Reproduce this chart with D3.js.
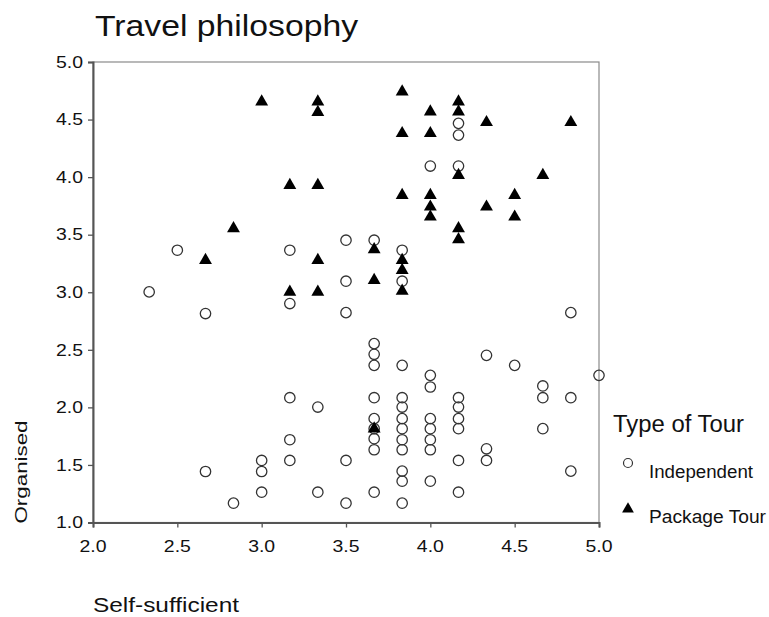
<!DOCTYPE html>
<html><head><meta charset="utf-8">
<script src="https://cdn.jsdelivr.net/npm/d3@7"></script>
<style>body{margin:0;background:#fff}text{font-family:"Liberation Sans",Arial,sans-serif;fill:#111}</style>
</head><body><svg id="c" width="769" height="617"></svg>
<script>
const title = "Travel philosophy";
const xTitle = "Self-sufficient";
const yTitle = "Organised";
const legendTitle = "Type of Tour";
const seriesNames = ["Independent", "Package Tour"];
const xTicks = [2.0, 2.5, 3.0, 3.5, 4.0, 4.5, 5.0];
const yTicks = [1.0, 1.5, 2.0, 2.5, 3.0, 3.5, 4.0, 4.5, 5.0];

const indepX = [
 2.5, 3.167, 3.5, 2.333, 3.5, 2.667, 3.167, 3.5, 3.667, 3.833, 3.833, 4.833, 4.0, 4.167, 4.167, 4.167,
 3.167, 3.333, 3.167, 3.167, 3.5, 2.667, 3.0, 3.0, 3.0, 3.333, 2.833, 3.5,
 3.667, 3.667, 3.667, 3.667, 3.667, 3.667, 3.667, 3.667, 3.667,
 3.833, 3.833, 3.833, 3.833, 3.833, 3.833, 3.833, 3.833, 3.833, 3.833,
 4.0, 4.0, 4.0, 4.0, 4.0, 4.0, 4.0,
 4.167, 4.167, 4.167, 4.167, 4.167, 4.167,
 4.333, 4.333, 4.333, 4.5, 4.667, 4.667, 4.667, 4.833, 4.833, 5.0
];
const indepY = [
 3.365, 3.365, 3.452, 3.003, 3.096, 2.815, 2.902, 2.823, 3.452, 3.365, 3.096, 2.823, 4.096, 4.096, 4.467, 4.365,
 2.084, 2.003, 1.719, 1.539, 1.539, 1.443, 1.539, 1.443, 1.263, 1.263, 1.168, 1.168,
 2.554, 2.461, 2.365, 2.084, 1.902, 1.815, 1.728, 1.632, 1.263,
 2.365, 2.084, 2.003, 1.902, 1.815, 1.719, 1.632, 1.446, 1.359, 1.168,
 2.278, 2.177, 1.902, 1.815, 1.719, 1.632, 1.359,
 2.084, 2.003, 1.902, 1.815, 1.539, 1.263,
 2.452, 1.640, 1.539, 2.365, 2.186, 2.084, 1.815, 2.084, 1.446, 2.278
];
const packX = [
 3.0, 3.333, 3.333, 3.167, 3.333, 3.833, 4.0, 4.167, 4.167, 4.333, 4.833, 3.833, 4.0,
 4.667, 4.167, 3.833, 4.0, 4.5, 4.0, 4.0, 4.333, 4.5, 4.167, 4.167, 3.667, 3.833, 3.833,
 3.667, 3.833, 2.833, 2.667, 3.333, 3.167, 3.333, 3.667
];
const packY = [
 4.655, 4.655, 4.563, 3.930, 3.930, 4.742, 4.568, 4.655, 4.568, 4.476, 4.476, 4.380, 4.380,
 4.017, 4.017, 3.843, 3.843, 3.843, 3.742, 3.655, 3.742, 3.655, 3.554, 3.458, 3.371, 3.278, 3.191,
 3.104, 3.011, 3.554, 3.278, 3.278, 3.003, 3.003, 1.815
];

const svg = d3.select("#c");
const x = d3.scaleLinear().domain([2, 5]).range([93, 599]);
const y = d3.scaleLinear().domain([1, 5]).range([522.5, 62]);

// frame
svg.append("rect").attr("x", x(2)).attr("y", y(5)).attr("width", x(5) - x(2)).attr("height", y(1) - y(5))
  .attr("fill", "none").attr("stroke", "#8a8a8a").attr("stroke-width", 1.2);

// axes
const xAxis = svg.append("g").attr("transform", `translate(0,${y(1)})`)
  .call(d3.axisBottom(x).tickValues(xTicks).tickSize(5).tickFormat(""));
const yAxis = svg.append("g").attr("transform", `translate(${x(2)},0)`)
  .call(d3.axisLeft(y).tickValues(yTicks).tickSize(5).tickFormat(""));
[xAxis, yAxis].forEach(g => {
  g.select(".domain").attr("stroke", "#555").attr("stroke-width", 2);
  g.selectAll(".tick line").attr("stroke", "#555").attr("stroke-width", 1.3);
});

// tick labels
svg.append("g").selectAll("text").data(xTicks).join("text")
  .attr("x", d => x(d)).attr("y", 552).attr("text-anchor", "middle")
  .attr("font-size", 17).attr("textLength", 27).attr("lengthAdjust", "spacingAndGlyphs")
  .text(d => d.toFixed(1));
svg.append("g").selectAll("text").data(yTicks).join("text")
  .attr("x", 83).attr("y", d => y(d)).attr("dy", "0.36em").attr("text-anchor", "end")
  .attr("font-size", 16).attr("textLength", 27).attr("lengthAdjust", "spacingAndGlyphs")
  .text(d => d.toFixed(1));

// titles
svg.append("text").attr("x", 95).attr("y", 36).attr("font-size", 30)
  .attr("textLength", 263).attr("lengthAdjust", "spacingAndGlyphs").text(title);
svg.append("text").attr("x", 93).attr("y", 612).attr("font-size", 21)
  .attr("textLength", 146).attr("lengthAdjust", "spacingAndGlyphs").text(xTitle);
svg.append("text").attr("transform", "translate(27,472) rotate(-90)").attr("text-anchor", "middle")
  .attr("font-size", 16).attr("textLength", 103).attr("lengthAdjust", "spacingAndGlyphs").text(yTitle);

// data
const indep = indepX.map((v, i) => ({x: v, y: indepY[i]}));
const pack = packX.map((v, i) => ({x: v, y: packY[i]}));
svg.append("g").selectAll("circle").data(indep).join("circle")
  .attr("cx", d => x(d.x)).attr("cy", d => y(d.y)).attr("r", 5.2)
  .attr("fill", "none").attr("stroke", "#333").attr("stroke-width", 1.3);
const tri = d3.symbol().type(d3.symbolTriangle).size(72);
svg.append("g").selectAll("path").data(pack).join("path")
  .attr("d", tri).attr("transform", d => `translate(${x(d.x)},${y(d.y)})`)
  .attr("fill", "#000");

// legend
svg.append("text").attr("x", 613).attr("y", 432).attr("font-size", 23)
  .attr("textLength", 131).attr("lengthAdjust", "spacingAndGlyphs").text(legendTitle);
svg.append("circle").attr("cx", 628).attr("cy", 463).attr("r", 4.5)
  .attr("fill", "none").attr("stroke", "#333").attr("stroke-width", 1.2);
svg.append("path").attr("d", d3.symbol().type(d3.symbolTriangle).size(60)())
  .attr("transform", "translate(628,509)").attr("fill", "#000");
svg.append("text").attr("x", 649).attr("y", 478).attr("font-size", 18.7)
  .attr("textLength", 104).attr("lengthAdjust", "spacingAndGlyphs").text(seriesNames[0]);
svg.append("text").attr("x", 649).attr("y", 523).attr("font-size", 18.7)
  .attr("textLength", 117).attr("lengthAdjust", "spacingAndGlyphs").text(seriesNames[1]);
</script></body></html>
